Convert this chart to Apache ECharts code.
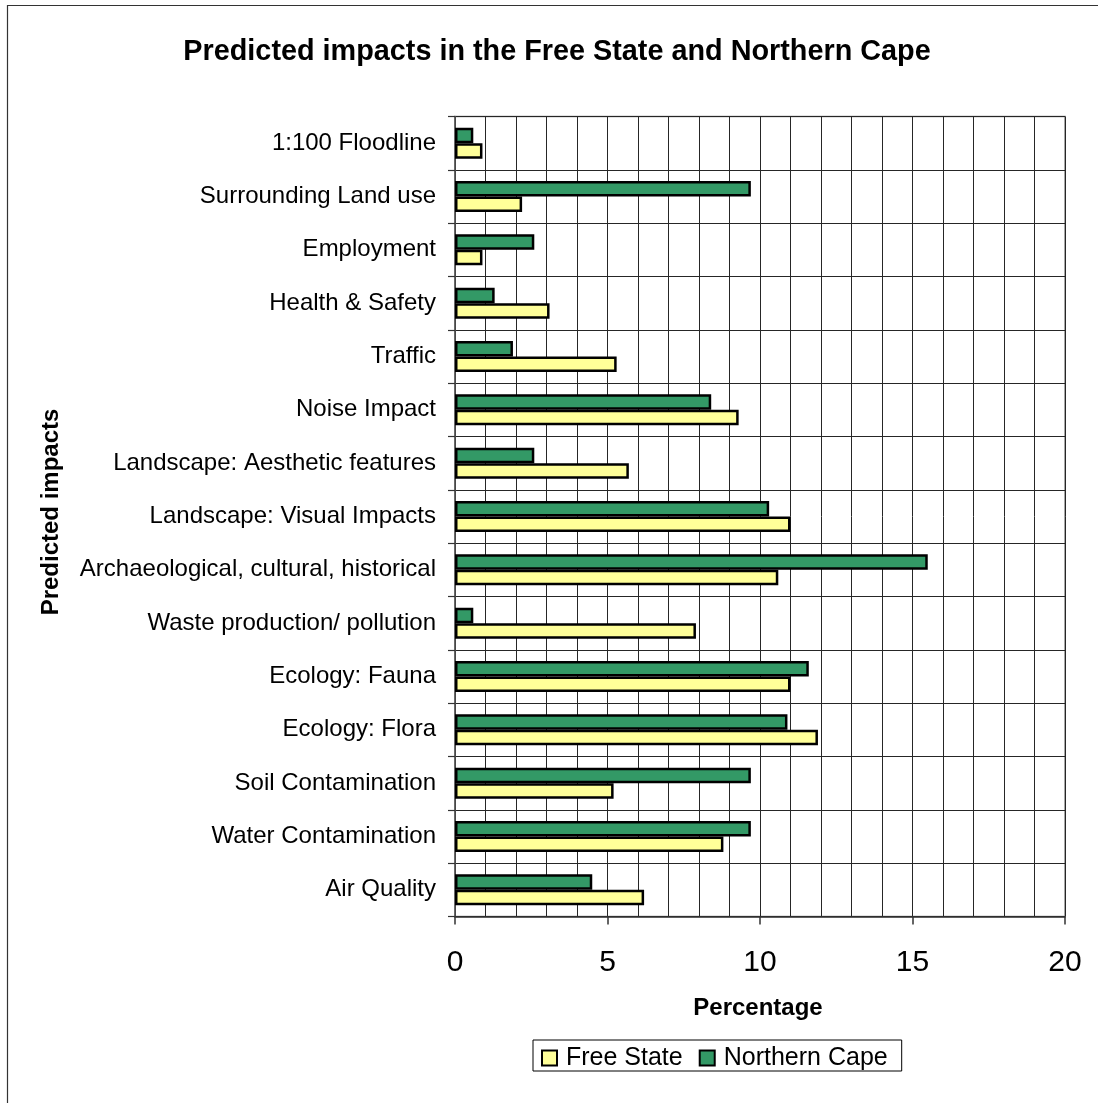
<!DOCTYPE html>
<html>
<head>
<meta charset="utf-8">
<title>Predicted impacts in the Free State and Northern Cape</title>
<script src="https://cdn.jsdelivr.net/npm/echarts@6/dist/echarts.min.js"></script>
<style>
  html, body { margin: 0; padding: 0; background: #ffffff; }
  #chart { width: 1098px; height: 1103px; }
</style>
</head>
<body>
<div id="chart"></div>
<script>
// Impact categories, listed top to bottom
const categories = [
  '1:100 Floodline',
  'Surrounding Land use',
  'Employment',
  'Health & Safety',
  'Traffic',
  'Noise Impact',
  'Landscape: Aesthetic features',
  'Landscape: Visual Impacts',
  'Archaeological, cultural, historical',
  'Waste production/ pollution',
  'Ecology: Fauna',
  'Ecology: Flora',
  'Soil Contamination',
  'Water Contamination',
  'Air Quality'
];

// Percentage of applications citing each impact
const freeState    = [0.9, 2.2, 0.9, 3.1, 5.3, 9.3, 5.7, 11.0, 10.6, 7.9, 11.0, 11.9, 5.2, 8.8, 6.2];
const northernCape = [0.6, 9.7, 2.6, 1.3, 1.9, 8.4, 2.6, 10.3, 15.5, 0.6, 11.6, 10.9, 9.7, 9.7, 4.5];

const seriesNames = ['Free State', 'Northern Cape'];
const xTicks = { min: 0, max: 20, step: 5 };

const FONT = '"Liberation Sans", Arial, Helvetica, sans-serif';
const GRID_COLOR = '#262626';

const chart = echarts.init(document.getElementById('chart'), null, { renderer: 'canvas' });

chart.setOption({
  backgroundColor: '#ffffff',
  animation: false,
  textStyle: { fontFamily: FONT, color: '#000' },
  graphic: [
    {
      type: 'rect',
      silent: true,
      shape: { x: 7.5, y: 5.5, width: 1200, height: 1200 },
      style: { fill: 'none', stroke: '#333333', lineWidth: 1.2 }
    },
    {
      type: 'text',
      x: 557, y: 52,
      style: {
        text: 'Predicted impacts in the Free State and Northern Cape',
        font: 'bold 28.8px ' + FONT,
        fill: '#000',
        align: 'center',
        verticalAlign: 'middle'
      }
    },
    {
      type: 'text',
      x: 51, y: 512,
      rotation: Math.PI / 2,
      style: {
        text: 'Predicted impacts',
        font: 'bold 24px ' + FONT,
        fill: '#000',
        align: 'center',
        verticalAlign: 'middle'
      }
    },
    {
      type: 'text',
      x: 758, y: 1008.6,
      style: {
        text: 'Percentage',
        font: 'bold 24px ' + FONT,
        fill: '#000',
        align: 'center',
        verticalAlign: 'middle'
      }
    }
  ],
  legend: {
    data: seriesNames,
    left: 533,
    top: 1040,
    orient: 'horizontal',
    itemWidth: 15,
    itemHeight: 15,
    itemGap: 16,
    padding: [5.5, 14, 0.5, 8],
    borderColor: '#000',
    borderWidth: 1,
    icon: 'rect',
    itemStyle: { borderColor: '#000', borderWidth: 2 },
    textStyle: { fontFamily: FONT, fontSize: 25, color: '#000', padding: [0, 0, 0, 4] }
  },
  grid: {
    left: 455,
    right: 33,
    top: 116.5,
    bottom: 186.5,
    show: true,
    borderColor: '#8a8a8a',
    borderWidth: 1.5,
    backgroundColor: 'transparent',
    containLabel: false
  },
  xAxis: {
    type: 'value',
    min: xTicks.min,
    max: xTicks.max,
    interval: xTicks.step,
    axisLine: { show: true, lineStyle: { color: '#333', width: 1.5 } },
    axisTick: { show: true, length: 8, lineStyle: { color: '#333', width: 1.5 } },
    axisLabel: { fontFamily: FONT, fontSize: 30, color: '#000', margin: 31 },
    splitLine: { show: true, lineStyle: { color: GRID_COLOR, width: 1 } },
    minorTick: { show: false, splitNumber: 5 },
    minorSplitLine: { show: true, lineStyle: { color: GRID_COLOR, width: 1 } }
  },
  yAxis: {
    type: 'category',
    data: categories,
    inverse: true,
    axisLine: { show: true, lineStyle: { color: '#555', width: 1.5 } },
    axisTick: { show: true, length: 7, lineStyle: { color: '#333', width: 1.2 } },
    axisLabel: { fontFamily: FONT, fontSize: 24, color: '#000', margin: 19 },
    splitLine: { show: true, lineStyle: { color: GRID_COLOR, width: 1 } }
  },
  series: [
    {
      name: seriesNames[1],
      type: 'bar',
      data: northernCape,
      barWidth: 15.5,
      barGap: '0%',
      itemStyle: { color: '#339966', borderColor: '#000', borderWidth: 2.5 }
    },
    {
      name: seriesNames[0],
      type: 'bar',
      data: freeState,
      barWidth: 15.5,
      barGap: '0%',
      itemStyle: { color: '#ffff99', borderColor: '#000', borderWidth: 2.5 }
    }
  ]
});
</script>
</body>
</html>
